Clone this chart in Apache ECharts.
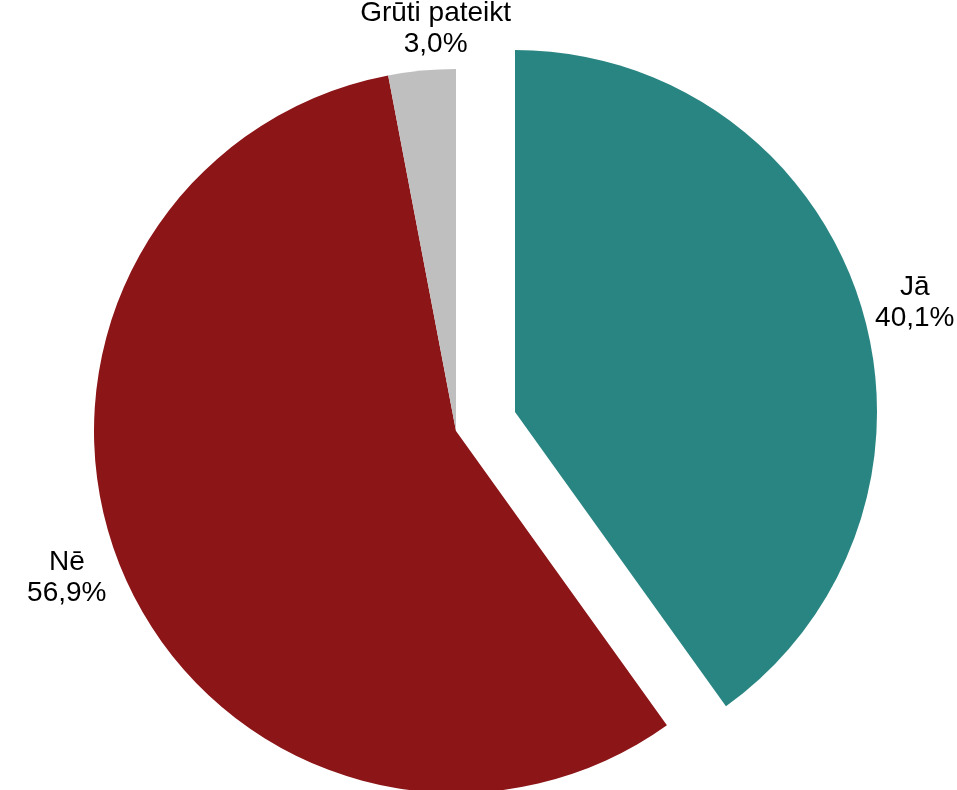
<!DOCTYPE html>
<html>
<head>
<meta charset="utf-8">
<script src="https://cdn.jsdelivr.net/npm/echarts@6/dist/echarts.min.js"></script>
<style>
  html, body { margin: 0; padding: 0; background: #fff; }
  #chart { width: 957px; height: 790px; }
</style>
</head>
<body>
<div id="chart"></div>
<script>
// dati no attēla
const categories = ['Jā', 'Nē', 'Grūti pateikt'];
const values = [40.1, 56.9, 3.0];
const colors = ['#298582', '#8C1518', '#BFBFBF'];
const exploded = [true, false, false];

const cx = 456, cy = 431, radius = 362;
const explodeOffset = 62;
const labelRadius = 368;
const labelBias = 2.5 * Math.PI / 180;

// vidējie leņķi (radiāni, pulksteņrādītāja virzienā no augšas)
const total = values.reduce((a, b) => a + b, 0);
const midAngles = [];
let acc = 0;
values.forEach(v => {
  midAngles.push(((acc + v / 2) / total) * Math.PI * 2);
  acc += v;
});

function labelPos(params, ox, oy) {
  const a = midAngles[params.dataIndex] + labelBias;
  const dx = Math.sin(a), dy = -Math.cos(a);
  const w = params.labelRect.width, h = params.labelRect.height;
  const d = labelRadius + Math.abs(dx) * w / 2 + Math.abs(dy) * h / 2;
  return { x: ox + dx * d, y: oy + dy * d, align: 'center', verticalAlign: 'middle' };
}

function makeSeries(isExploded) {
  // izvirzītajai daļai centrs nobīdīts pa tās vidējo leņķi
  let ox = cx, oy = cy;
  if (isExploded) {
    const i = exploded.indexOf(true);
    ox = cx + Math.sin(midAngles[i]) * explodeOffset;
    oy = cy - Math.cos(midAngles[i]) * explodeOffset;
  }
  return {
    type: 'pie',
    center: [ox, oy],
    radius: radius,
    startAngle: 90,
    clockwise: true,
    silent: true,
    emphasis: { disabled: true },
    label: {
      show: true,
      position: 'outside',
      fontFamily: 'Liberation Sans, Arial, sans-serif',
      fontSize: 28,
      lineHeight: 31,
      color: '#000',
      formatter: p => p.name + '\n' + p.value.toFixed(1).replace('.', ',') + '%'
    },
    labelLine: { show: false, length: 0, length2: 0 },
    labelLayout: params => labelPos(params, ox, oy),
    data: categories.map((name, i) => {
      const on = exploded[i] === isExploded;
      return {
        name: name,
        value: values[i],
        itemStyle: { color: on ? colors[i] : 'rgba(0,0,0,0)', borderWidth: 0 },
        label: { show: on }
      };
    })
  };
}

const chart = echarts.init(document.getElementById('chart'), null, { renderer: 'canvas' });

chart.setOption({
  animation: false,
  backgroundColor: '#ffffff',
  series: [makeSeries(false), makeSeries(true)]
});
</script>
</body>
</html>
